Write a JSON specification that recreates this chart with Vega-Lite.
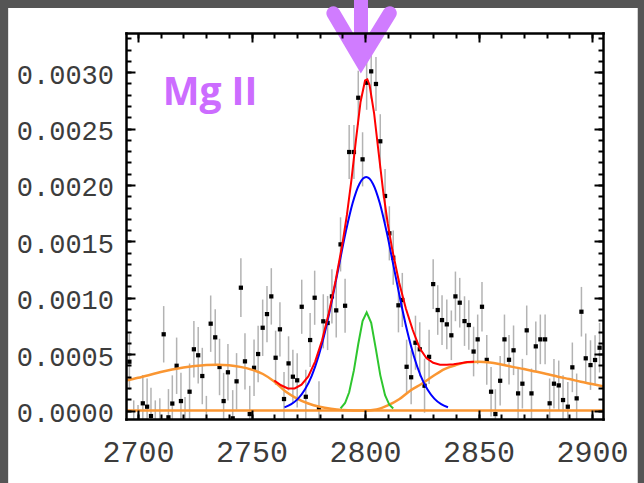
{
  "$schema": "https://vega.github.io/schema/vega-lite/v6.json",
  "width": 477,
  "height": 386,
  "autosize": {"type": "none"},
  "padding": {"left": 126, "top": 33, "right": 41, "bottom": 64},
  "background": "#555555",
  "config": {
    "view": {"stroke": null},
    "axis": {"grid": false, "tickColor": "#000000", "tickWidth": 2, "labelFont": "Liberation Mono", "labelColor": "#3c3c3c", "labelOverlap": false, "labelFlush": false, "labelBound": false}
  },
  "datasets": {
    "spec": [
      {"lambda": 2696.2, "flux": 0.000433, "err": 0.00025},
      {"lambda": 2698.1, "flux": -0.00016, "err": 0.00025},
      {"lambda": 2700.0, "flux": -0.0002, "err": 0.00025},
      {"lambda": 2702.1, "flux": 0.000064, "err": 0.00025},
      {"lambda": 2704.0, "flux": 0.000034, "err": 0.00025},
      {"lambda": 2705.7, "flux": -0.000049, "err": 0.00025},
      {"lambda": 2707.6, "flux": -0.00016, "err": 0.00025},
      {"lambda": 2709.6, "flux": -0.00014, "err": 0.00025},
      {"lambda": 2711.3, "flux": 0.000676, "err": 0.00025},
      {"lambda": 2713.4, "flux": -0.00006, "err": 0.00025},
      {"lambda": 2715.1, "flux": 0.000062, "err": 0.00025},
      {"lambda": 2717.0, "flux": 0.000397, "err": 0.00025},
      {"lambda": 2718.9, "flux": 0.000084, "err": 0.00025},
      {"lambda": 2720.7, "flux": -0.00013, "err": 0.00025},
      {"lambda": 2722.7, "flux": 0.000167, "err": 0.00025},
      {"lambda": 2724.6, "flux": 0.000543, "err": 0.00025},
      {"lambda": 2726.5, "flux": 0.00049, "err": 0.00025},
      {"lambda": 2728.3, "flux": 0.000306, "err": 0.00025},
      {"lambda": 2730.1, "flux": -0.00012, "err": 0.00025},
      {"lambda": 2732.0, "flux": 0.00077, "err": 0.00025},
      {"lambda": 2734.0, "flux": 0.000649, "err": 0.00025},
      {"lambda": 2735.9, "flux": 0.000386, "err": 0.00025},
      {"lambda": 2737.7, "flux": 0.000084, "err": 0.00025},
      {"lambda": 2739.6, "flux": 0.000339, "err": 0.00025},
      {"lambda": 2741.7, "flux": -0.000069, "err": 0.00025},
      {"lambda": 2743.4, "flux": 0.000259, "err": 0.00025},
      {"lambda": 2745.3, "flux": 0.001089, "err": 0.00026},
      {"lambda": 2747.1, "flux": 0.000436, "err": 0.00025},
      {"lambda": 2749.2, "flux": -0.000031, "err": 0.00025},
      {"lambda": 2751.1, "flux": 0.000379, "err": 0.00025},
      {"lambda": 2752.9, "flux": 0.000501, "err": 0.00025},
      {"lambda": 2754.9, "flux": 0.000734, "err": 0.00025},
      {"lambda": 2756.8, "flux": 0.000855, "err": 0.00025},
      {"lambda": 2758.7, "flux": 0.001012, "err": 0.00025},
      {"lambda": 2760.6, "flux": 0.000468, "err": 0.00024},
      {"lambda": 2762.5, "flux": 0.00072, "err": 0.00024},
      {"lambda": 2764.3, "flux": 0.000102, "err": 0.00024},
      {"lambda": 2766.3, "flux": 0.000418, "err": 0.00024},
      {"lambda": 2768.2, "flux": 0.0003, "err": 0.00024},
      {"lambda": 2770.1, "flux": 0.000268, "err": 0.00024},
      {"lambda": 2772.1, "flux": 0.00092, "err": 0.00024},
      {"lambda": 2773.9, "flux": 0.000122, "err": 0.00024},
      {"lambda": 2775.8, "flux": 0.000625, "err": 0.00024},
      {"lambda": 2777.8, "flux": 0.001, "err": 0.00024},
      {"lambda": 2779.7, "flux": 0.00002, "err": 0.00024},
      {"lambda": 2781.6, "flux": 0.000791, "err": 0.00024},
      {"lambda": 2783.5, "flux": 0.000776, "err": 0.00024},
      {"lambda": 2785.4, "flux": 0.001012, "err": 0.00024},
      {"lambda": 2787.3, "flux": 0.000888, "err": 0.00024},
      {"lambda": 2789.2, "flux": 0.001473, "err": 0.00024},
      {"lambda": 2791.2, "flux": 0.000929, "err": 0.00024},
      {"lambda": 2793.0, "flux": 0.002292, "err": 0.00024},
      {"lambda": 2795.1, "flux": 0.002292, "err": 0.00024},
      {"lambda": 2797.0, "flux": 0.002773, "err": 0.00024},
      {"lambda": 2798.9, "flux": 0.002227, "err": 0.00024},
      {"lambda": 2800.7, "flux": 0.002906, "err": 0.00024},
      {"lambda": 2802.7, "flux": 0.003007, "err": 0.00024},
      {"lambda": 2804.8, "flux": 0.002895, "err": 0.00024},
      {"lambda": 2806.7, "flux": 0.002387, "err": 0.00024},
      {"lambda": 2808.8, "flux": 0.001902, "err": 0.00024},
      {"lambda": 2810.7, "flux": 0.001571, "err": 0.00024},
      {"lambda": 2812.4, "flux": 0.001355, "err": 0.00024},
      {"lambda": 2814.7, "flux": 0.000933, "err": 0.00024},
      {"lambda": 2816.4, "flux": 0.00098, "err": 0.00024},
      {"lambda": 2818.3, "flux": 0.000388, "err": 0.00024},
      {"lambda": 2820.3, "flux": 0.000295, "err": 0.00024},
      {"lambda": 2822.2, "flux": 0.000601, "err": 0.00024},
      {"lambda": 2824.1, "flux": 0.000543, "err": 0.00024},
      {"lambda": 2826.2, "flux": 0.00022, "err": 0.00024},
      {"lambda": 2828.2, "flux": 0.000476, "err": 0.00024},
      {"lambda": 2830.0, "flux": 0.001121, "err": 0.00022},
      {"lambda": 2832.0, "flux": 0.000891, "err": 0.00022},
      {"lambda": 2833.9, "flux": 0.000802, "err": 0.00022},
      {"lambda": 2836.0, "flux": 0.000764, "err": 0.00022},
      {"lambda": 2838.0, "flux": 0.000667, "err": 0.00022},
      {"lambda": 2839.8, "flux": 0.001012, "err": 0.00022},
      {"lambda": 2841.7, "flux": 0.000956, "err": 0.00022},
      {"lambda": 2843.8, "flux": 0.000793, "err": 0.00022},
      {"lambda": 2845.7, "flux": 0.000758, "err": 0.00022},
      {"lambda": 2847.8, "flux": 0.000523, "err": 0.00022},
      {"lambda": 2849.6, "flux": 0.000631, "err": 0.00022},
      {"lambda": 2851.5, "flux": 0.00092, "err": 0.00022},
      {"lambda": 2853.6, "flux": 0.000449, "err": 0.00022},
      {"lambda": 2855.5, "flux": 0.000167, "err": 0.00022},
      {"lambda": 2857.4, "flux": -0.000031, "err": 0.00022},
      {"lambda": 2859.5, "flux": 0.000264, "err": 0.00022},
      {"lambda": 2861.4, "flux": 0.000631, "err": 0.00022},
      {"lambda": 2863.4, "flux": 0.00045, "err": 0.00022},
      {"lambda": 2865.4, "flux": 0.000534, "err": 0.00022},
      {"lambda": 2867.4, "flux": 0.000152, "err": 0.00022},
      {"lambda": 2869.3, "flux": 0.000238, "err": 0.00022},
      {"lambda": 2871.2, "flux": 0.000711, "err": 0.00022},
      {"lambda": 2873.3, "flux": 0.000152, "err": 0.00022},
      {"lambda": 2875.2, "flux": 0.000569, "err": 0.00022},
      {"lambda": 2877.2, "flux": 0.000631, "err": 0.00022},
      {"lambda": 2879.3, "flux": 0.000631, "err": 0.00022},
      {"lambda": 2881.3, "flux": 0.000064, "err": 0.00022},
      {"lambda": 2883.2, "flux": 0.000238, "err": 0.00022},
      {"lambda": 2885.3, "flux": 0.000223, "err": 0.00022},
      {"lambda": 2887.2, "flux": 0.000093, "err": 0.00022},
      {"lambda": 2889.3, "flux": 0.000034, "err": 0.00022},
      {"lambda": 2891.3, "flux": 0.000383, "err": 0.00022},
      {"lambda": 2893.2, "flux": 0.000108, "err": 0.00022},
      {"lambda": 2895.3, "flux": 0.000876, "err": 0.00022},
      {"lambda": 2897.2, "flux": 0.000463, "err": 0.00022},
      {"lambda": 2899.3, "flux": 0.000403, "err": 0.00022},
      {"lambda": 2901.3, "flux": 0.000448, "err": 0.00022},
      {"lambda": 2903.3, "flux": 0.000557, "err": 0.00022}
    ],
    "model": [
      {"comp": "base", "lambda": 2694.7, "flux": 0},
      {"comp": "base", "lambda": 2904.8, "flux": 0},
      {"comp": "orange", "lambda": 2694.7, "flux": 0.000266},
      {"comp": "orange", "lambda": 2700, "flux": 0.00029},
      {"comp": "orange", "lambda": 2705, "flux": 0.000315},
      {"comp": "orange", "lambda": 2710, "flux": 0.000341},
      {"comp": "orange", "lambda": 2715, "flux": 0.000363},
      {"comp": "orange", "lambda": 2720, "flux": 0.000381},
      {"comp": "orange", "lambda": 2725, "flux": 0.000394},
      {"comp": "orange", "lambda": 2730, "flux": 0.000403},
      {"comp": "orange", "lambda": 2735, "flux": 0.000406},
      {"comp": "orange", "lambda": 2740, "flux": 0.000401},
      {"comp": "orange", "lambda": 2745, "flux": 0.000387},
      {"comp": "orange", "lambda": 2750, "flux": 0.000363},
      {"comp": "orange", "lambda": 2755, "flux": 0.000324},
      {"comp": "orange", "lambda": 2760, "flux": 0.000257},
      {"comp": "orange", "lambda": 2765, "flux": 0.000168},
      {"comp": "orange", "lambda": 2770, "flux": 0.000106},
      {"comp": "orange", "lambda": 2775, "flux": 0.000062},
      {"comp": "orange", "lambda": 2780, "flux": 0.000033},
      {"comp": "orange", "lambda": 2785, "flux": 0.000015},
      {"comp": "orange", "lambda": 2790, "flux": 0.000004},
      {"comp": "orange", "lambda": 2795, "flux": 0},
      {"comp": "orange", "lambda": 2800, "flux": 0},
      {"comp": "orange", "lambda": 2805, "flux": 0.000009},
      {"comp": "orange", "lambda": 2810, "flux": 0.000045},
      {"comp": "orange", "lambda": 2815, "flux": 0.0001},
      {"comp": "orange", "lambda": 2820, "flux": 0.000178},
      {"comp": "orange", "lambda": 2825, "flux": 0.000238},
      {"comp": "orange", "lambda": 2830, "flux": 0.000306},
      {"comp": "orange", "lambda": 2835, "flux": 0.000368},
      {"comp": "orange", "lambda": 2840, "flux": 0.000403},
      {"comp": "orange", "lambda": 2845, "flux": 0.000427},
      {"comp": "orange", "lambda": 2850, "flux": 0.000433},
      {"comp": "orange", "lambda": 2855, "flux": 0.000426},
      {"comp": "orange", "lambda": 2860, "flux": 0.000408},
      {"comp": "orange", "lambda": 2865, "flux": 0.000387},
      {"comp": "orange", "lambda": 2870, "flux": 0.000368},
      {"comp": "orange", "lambda": 2875, "flux": 0.000346},
      {"comp": "orange", "lambda": 2880, "flux": 0.000324},
      {"comp": "orange", "lambda": 2885, "flux": 0.0003},
      {"comp": "orange", "lambda": 2890, "flux": 0.000279},
      {"comp": "orange", "lambda": 2895, "flux": 0.000255},
      {"comp": "orange", "lambda": 2900, "flux": 0.000235},
      {"comp": "orange", "lambda": 2904.8, "flux": 0.000215},
      {"comp": "blue", "lambda": 2764.5, "flux": 0.0000286},
      {"comp": "blue", "lambda": 2767.5, "flux": 0.0000566},
      {"comp": "blue", "lambda": 2770.5, "flux": 0.000106},
      {"comp": "blue", "lambda": 2773.5, "flux": 0.000186},
      {"comp": "blue", "lambda": 2776.5, "flux": 0.000308},
      {"comp": "blue", "lambda": 2779.5, "flux": 0.000482},
      {"comp": "blue", "lambda": 2782.5, "flux": 0.000709},
      {"comp": "blue", "lambda": 2785.5, "flux": 0.000984},
      {"comp": "blue", "lambda": 2788.5, "flux": 0.001286},
      {"comp": "blue", "lambda": 2791.5, "flux": 0.001584},
      {"comp": "blue", "lambda": 2794.5, "flux": 0.001838},
      {"comp": "blue", "lambda": 2797.5, "flux": 0.002009},
      {"comp": "blue", "lambda": 2800.5, "flux": 0.00207},
      {"comp": "blue", "lambda": 2803.5, "flux": 0.002009},
      {"comp": "blue", "lambda": 2806.5, "flux": 0.001838},
      {"comp": "blue", "lambda": 2809.5, "flux": 0.001584},
      {"comp": "blue", "lambda": 2812.5, "flux": 0.001286},
      {"comp": "blue", "lambda": 2815.5, "flux": 0.000984},
      {"comp": "blue", "lambda": 2818.5, "flux": 0.000709},
      {"comp": "blue", "lambda": 2821.5, "flux": 0.000482},
      {"comp": "blue", "lambda": 2824.5, "flux": 0.000308},
      {"comp": "blue", "lambda": 2827.5, "flux": 0.000186},
      {"comp": "blue", "lambda": 2830.5, "flux": 0.000106},
      {"comp": "blue", "lambda": 2833.5, "flux": 0.0000566},
      {"comp": "blue", "lambda": 2836.5, "flux": 0.0000286},
      {"comp": "green", "lambda": 2789.2, "flux": 0.00002},
      {"comp": "green", "lambda": 2791.2, "flux": 0.000067},
      {"comp": "green", "lambda": 2793.0, "flux": 0.000162},
      {"comp": "green", "lambda": 2795.1, "flux": 0.000358},
      {"comp": "green", "lambda": 2797.0, "flux": 0.00059},
      {"comp": "green", "lambda": 2798.9, "flux": 0.000794},
      {"comp": "green", "lambda": 2800.7, "flux": 0.00087},
      {"comp": "green", "lambda": 2802.7, "flux": 0.000777},
      {"comp": "green", "lambda": 2804.8, "flux": 0.00054},
      {"comp": "green", "lambda": 2806.7, "flux": 0.000314},
      {"comp": "green", "lambda": 2808.8, "flux": 0.000136},
      {"comp": "green", "lambda": 2810.7, "flux": 0.000051},
      {"comp": "green", "lambda": 2812.4, "flux": 0.000018},
      {"comp": "red", "lambda": 2760, "flux": 0.000266},
      {"comp": "red", "lambda": 2763, "flux": 0.000224},
      {"comp": "red", "lambda": 2766, "flux": 0.000196},
      {"comp": "red", "lambda": 2769, "flux": 0.000196},
      {"comp": "red", "lambda": 2772, "flux": 0.000229},
      {"comp": "red", "lambda": 2775, "flux": 0.000303},
      {"comp": "red", "lambda": 2778, "flux": 0.000434},
      {"comp": "red", "lambda": 2781, "flux": 0.000618},
      {"comp": "red", "lambda": 2784, "flux": 0.00086},
      {"comp": "red", "lambda": 2787, "flux": 0.001148},
      {"comp": "red", "lambda": 2790, "flux": 0.001476},
      {"comp": "red", "lambda": 2792, "flux": 0.001734},
      {"comp": "red", "lambda": 2794, "flux": 0.002044},
      {"comp": "red", "lambda": 2796, "flux": 0.002401},
      {"comp": "red", "lambda": 2798, "flux": 0.002736},
      {"comp": "red", "lambda": 2800, "flux": 0.002926},
      {"comp": "red", "lambda": 2801, "flux": 0.002936},
      {"comp": "red", "lambda": 2802, "flux": 0.002884},
      {"comp": "red", "lambda": 2804, "flux": 0.002632},
      {"comp": "red", "lambda": 2806, "flux": 0.002281},
      {"comp": "red", "lambda": 2808, "flux": 0.001939},
      {"comp": "red", "lambda": 2810, "flux": 0.001656},
      {"comp": "red", "lambda": 2812, "flux": 0.001425},
      {"comp": "red", "lambda": 2815, "flux": 0.001135},
      {"comp": "red", "lambda": 2818, "flux": 0.000903},
      {"comp": "red", "lambda": 2821, "flux": 0.000714},
      {"comp": "red", "lambda": 2824, "flux": 0.000555},
      {"comp": "red", "lambda": 2827, "flux": 0.000465},
      {"comp": "red", "lambda": 2830, "flux": 0.000423},
      {"comp": "red", "lambda": 2833, "flux": 0.000406},
      {"comp": "red", "lambda": 2836, "flux": 0.000406},
      {"comp": "red", "lambda": 2839, "flux": 0.000411},
      {"comp": "red", "lambda": 2842, "flux": 0.00042},
      {"comp": "red", "lambda": 2845, "flux": 0.00043},
      {"comp": "red", "lambda": 2848, "flux": 0.000432}
    ]
  },
  "layer": [
    {
      "data": {"values": [{}]},
      "mark": {"type": "rect", "color": "#ffffff"},
      "encoding": {
        "x": {"datum": 2642.8, "type": "quantitative", "scale": {"domain": [2694.7, 2904.8], "nice": false, "zero": false}, "axis": null},
        "x2": {"datum": 2920.1},
        "y": {"datum": 0.003568, "type": "quantitative", "scale": {"domain": [-0.000075, 0.003347], "nice": false, "zero": false}, "axis": null},
        "y2": {"datum": -0.0009}
      }
    },
    {
      "data": {"name": "spec"},
      "mark": {"type": "errorbar", "color": "#b3b3b3", "thickness": 1.5, "clip": true},
      "encoding": {
        "x": {"field": "lambda", "type": "quantitative", "scale": {"domain": [2694.7, 2904.8], "nice": false, "zero": false}, "axis": null},
        "y": {"field": "flux", "type": "quantitative", "scale": {"domain": [-0.000075, 0.003347], "nice": false, "zero": false}, "axis": null},
        "yError": {"field": "err"}
      }
    },
    {
      "data": {"name": "spec"},
      "mark": {"type": "point", "shape": "square", "filled": true, "size": 18, "color": "#000000", "opacity": 1, "clip": true},
      "encoding": {
        "x": {"field": "lambda", "type": "quantitative", "scale": {"domain": [2694.7, 2904.8], "nice": false, "zero": false},
          "axis": {"orient": "bottom", "zindex": 1, "title": null, "values": [2700, 2750, 2800, 2850, 2900], "format": "d", "tickSize": -9, "labelPadding": 27, "labelFontSize": 30, "domain": true, "domainColor": "#000000", "domainWidth": 2.5, "domainCap": "square"}},
        "y": {"field": "flux", "type": "quantitative", "scale": {"domain": [-0.000075, 0.003347], "nice": false, "zero": false},
          "axis": {"orient": "left", "zindex": 1, "title": null, "values": [0, 0.0005, 0.001, 0.0015, 0.002, 0.0025, 0.003], "format": ".4f", "tickSize": -9, "labelPadding": 21.5, "labelOffset": 3, "labelFontSize": 27, "domain": true, "domainColor": "#000000", "domainWidth": 2.5, "domainCap": "square"}}
      }
    },
    {
      "data": {"name": "model"},
      "transform": [{"filter": "datum.comp === 'base'"}],
      "mark": {"type": "line", "color": "#fa9632", "strokeWidth": 2.5, "clip": true},
      "encoding": {
        "x": {"field": "lambda", "type": "quantitative", "scale": {"domain": [2694.7, 2904.8], "nice": false, "zero": false},
          "axis": {"orient": "top", "zindex": 1, "title": null, "values": [2700, 2750, 2800, 2850, 2900], "tickSize": -9, "labels": false, "domain": true, "domainColor": "#000000", "domainWidth": 2.5, "domainCap": "square"}},
        "y": {"field": "flux", "type": "quantitative", "scale": {"domain": [-0.000075, 0.003347], "nice": false, "zero": false},
          "axis": {"orient": "right", "zindex": 1, "title": null, "values": [0, 0.0005, 0.001, 0.0015, 0.002, 0.0025, 0.003], "tickSize": -9, "labels": false, "domain": true, "domainColor": "#000000", "domainWidth": 2.5, "domainCap": "square"}}
      }
    },
    {
      "data": {"name": "model"},
      "transform": [{"filter": "datum.comp === 'orange'"}],
      "mark": {"type": "line", "color": "#fa9632", "strokeWidth": 2.5, "interpolate": "monotone", "clip": true},
      "encoding": {
        "x": {"field": "lambda", "type": "quantitative", "scale": {"domain": [2694.7, 2904.8], "nice": false, "zero": false},
          "axis": {"orient": "top", "zindex": 1, "title": null, "values": [2700, 2710, 2720, 2730, 2740, 2750, 2760, 2770, 2780, 2790, 2800, 2810, 2820, 2830, 2840, 2850, 2860, 2870, 2880, 2890, 2900], "tickSize": -5, "labels": false, "domain": false}},
        "y": {"field": "flux", "type": "quantitative", "scale": {"domain": [-0.000075, 0.003347], "nice": false, "zero": false},
          "axis": {"orient": "right", "zindex": 1, "title": null, "values": [0, 0.0001, 0.0002, 0.0003, 0.0004, 0.0005, 0.0006, 0.0007, 0.0008, 0.0009, 0.001, 0.0011, 0.0012, 0.0013, 0.0014, 0.0015, 0.0016, 0.0017, 0.0018, 0.0019, 0.002, 0.0021, 0.0022, 0.0023, 0.0024, 0.0025, 0.0026, 0.0027, 0.0028, 0.0029, 0.003, 0.0031, 0.0032, 0.0033], "tickSize": -5, "labels": false, "domain": false}}
      }
    },
    {
      "data": {"name": "model"},
      "transform": [{"filter": "datum.comp === 'blue'"}],
      "mark": {"type": "line", "color": "#0000ff", "strokeWidth": 2, "interpolate": "monotone", "clip": true},
      "encoding": {
        "x": {"field": "lambda", "type": "quantitative", "scale": {"domain": [2694.7, 2904.8], "nice": false, "zero": false},
          "axis": {"orient": "bottom", "zindex": 1, "title": null, "values": [2700, 2710, 2720, 2730, 2740, 2750, 2760, 2770, 2780, 2790, 2800, 2810, 2820, 2830, 2840, 2850, 2860, 2870, 2880, 2890, 2900], "tickSize": -5, "labels": false, "domain": false}},
        "y": {"field": "flux", "type": "quantitative", "scale": {"domain": [-0.000075, 0.003347], "nice": false, "zero": false},
          "axis": {"orient": "left", "zindex": 1, "title": null, "values": [0, 0.0001, 0.0002, 0.0003, 0.0004, 0.0005, 0.0006, 0.0007, 0.0008, 0.0009, 0.001, 0.0011, 0.0012, 0.0013, 0.0014, 0.0015, 0.0016, 0.0017, 0.0018, 0.0019, 0.002, 0.0021, 0.0022, 0.0023, 0.0024, 0.0025, 0.0026, 0.0027, 0.0028, 0.0029, 0.003, 0.0031, 0.0032, 0.0033], "tickSize": -5, "labels": false, "domain": false}}
      }
    },
    {
      "data": {"name": "model"},
      "transform": [{"filter": "datum.comp === 'green'"}],
      "mark": {"type": "line", "color": "#2ec62e", "strokeWidth": 2, "clip": true},
      "encoding": {
        "x": {"field": "lambda", "type": "quantitative", "scale": {"domain": [2694.7, 2904.8], "nice": false, "zero": false}, "axis": null},
        "y": {"field": "flux", "type": "quantitative", "scale": {"domain": [-0.000075, 0.003347], "nice": false, "zero": false}, "axis": null}
      }
    },
    {
      "data": {"name": "model"},
      "transform": [{"filter": "datum.comp === 'red'"}],
      "mark": {"type": "line", "color": "#ff0000", "strokeWidth": 2, "clip": true},
      "encoding": {
        "x": {"field": "lambda", "type": "quantitative", "scale": {"domain": [2694.7, 2904.8], "nice": false, "zero": false}, "axis": null},
        "y": {"field": "flux", "type": "quantitative", "scale": {"domain": [-0.000075, 0.003347], "nice": false, "zero": false}, "axis": null}
      }
    },
    {
      "data": {"values": [{"lambda": 2798.2, "flux": 0.003285}]},
      "mark": {"type": "point", "shape": "M0,-1.4L0,0.4M-0.69,-0.67L0,0.5L0.72,-0.67", "size": 6400, "filled": false, "color": "#d07cff", "strokeWidth": 14, "strokeCap": "round", "strokeJoin": "miter", "opacity": 1},
      "encoding": {
        "x": {"field": "lambda", "type": "quantitative", "scale": {"domain": [2694.7, 2904.8], "nice": false, "zero": false}, "axis": null},
        "y": {"field": "flux", "type": "quantitative", "scale": {"domain": [-0.000075, 0.003347], "nice": false, "zero": false}, "axis": null}
      }
    },
    {
      "data": {"values": [{"label": "Mg II", "lambda": 2731.7, "flux": 0.002709}]},
      "mark": {"type": "text", "font": "Open Sans", "fontWeight": "bold", "fontSize": 39, "color": "#cc6cff", "align": "center", "baseline": "alphabetic"},
      "encoding": {
        "x": {"field": "lambda", "type": "quantitative", "scale": {"domain": [2694.7, 2904.8], "nice": false, "zero": false}, "axis": null},
        "y": {"field": "flux", "type": "quantitative", "scale": {"domain": [-0.000075, 0.003347], "nice": false, "zero": false}, "axis": null},
        "text": {"field": "label"}
      }
    }
  ],
  "resolve": {"axis": {"x": "independent", "y": "independent"}}
}
